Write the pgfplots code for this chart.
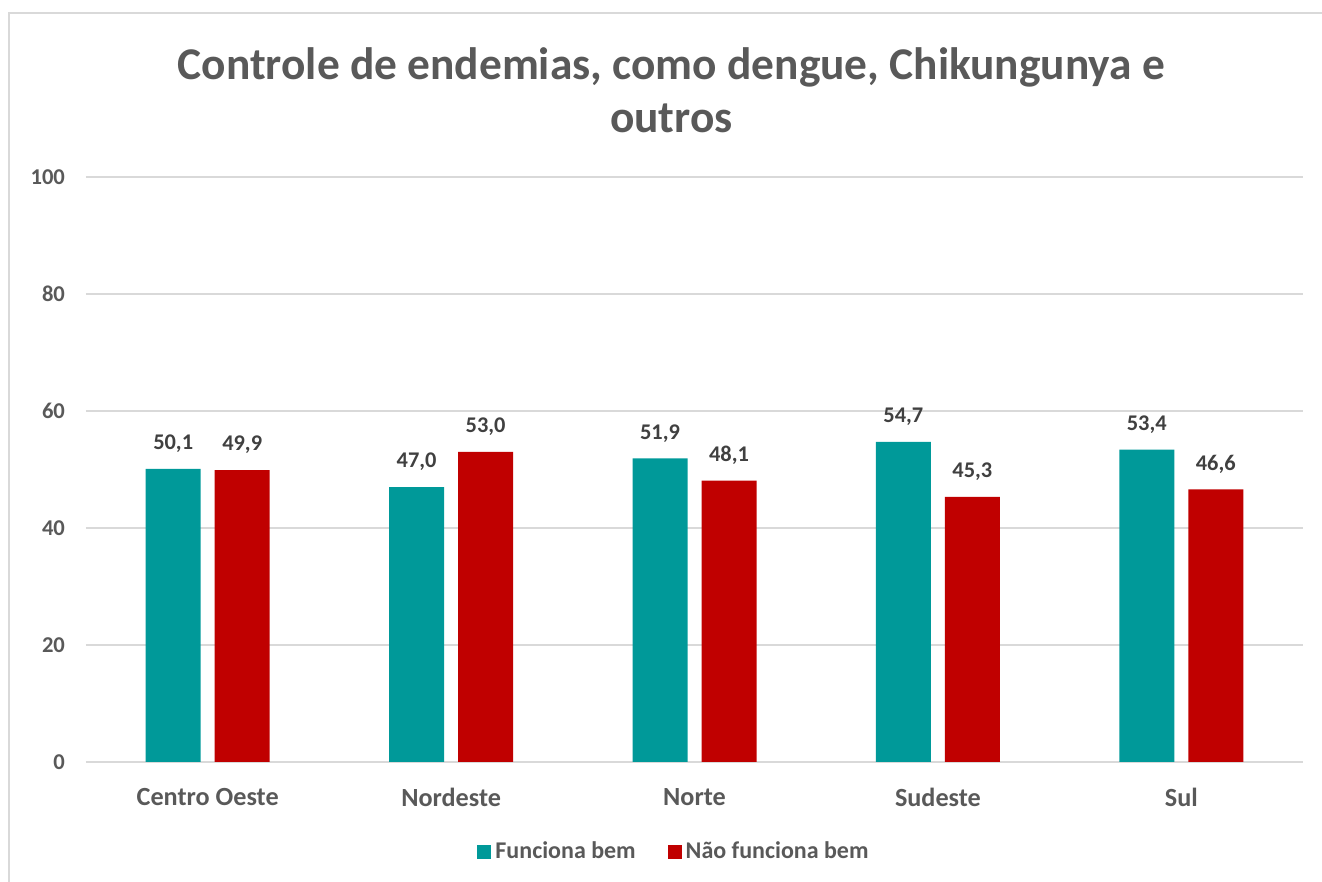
\documentclass[border=0pt]{standalone}
\usepackage{pgfplots}
\pgfplotsset{compat=1.18}
\usepackage{fontspec}
\setmainfont{Carlito}
\definecolor{teal1}{HTML}{009999}
\definecolor{red1}{HTML}{C00000}
\definecolor{txt}{HTML}{595959}
\definecolor{lbl}{HTML}{404040}
\definecolor{grid1}{HTML}{D9D9D9}
\begin{document}
\begin{tikzpicture}
\useasboundingbox (-43pt,-60pt) rectangle (618pt,381pt);
\draw[grid1, line width=1pt] (-38.5pt,-60pt) -- (-38.5pt,374.5pt) -- (618pt,374.5pt);
\begin{axis}[
  at={(0,0)}, anchor=south west,
  scale only axis,
  width=608.5pt, height=292.5pt,
  xmin=-0.5, xmax=4.5, ymin=0, ymax=100,
  ytick={0,20,40,60,80,100},
  xtick={0,1,2,3,4},
  xticklabels={Centro Oeste,Nordeste,Norte,Sudeste,Sul},
  axis line style={draw=none},
  major tick length=0pt,
  ymajorgrids, grid style={grid1, line width=0.9pt},
  extra y ticks={0}, extra y tick style={grid style={grid1,line width=1.1pt}},
  extra y tick labels={},
  yticklabel style={font=\bfseries\fontsize{11.3}{13}\selectfont, text=txt, anchor=east, xshift=-7pt},
  xticklabel style={font=\bfseries\fontsize{13.1}{15}\selectfont, text=txt, anchor=center, yshift=-17.5pt},
  /pgf/number format/assume math mode=true,
  ybar, bar width=27.5pt,
  bar shift auto=false,
  nodes near coords,
  nodes near coords style={font=\bfseries\fontsize{11.2}{13}\selectfont, text=lbl, anchor=south, yshift=4.5pt,
    /pgf/number format/.cd, fixed, fixed zerofill, precision=1, use comma},
  legend style={at={(294.5pt,-45pt)}, anchor=center, draw=none, legend columns=2,
    font=\bfseries\fontsize{12}{14}\selectfont, text=txt,
    /tikz/every even column/.append style={column sep=14pt}},
  legend image code/.code={\fill[#1] (0pt,-3.5pt) rectangle (7pt,3.5pt);},
  clip=false,
]
\addplot[fill=teal1, draw=none, bar shift=-17.25pt] coordinates {(0,50.1) (1,47.0) (2,51.9) (3,54.7) (4,53.4)};
\addplot[fill=red1, draw=none, bar shift=17.25pt] coordinates {(0,49.9) (1,53.0) (2,48.1) (3,45.3) (4,46.6)};
\legend{Funciona bem, Não funciona bem}
\node[font=\bfseries\fontsize{22.7}{26.5}\selectfont, text=txt, align=center] at (rel axis cs:0.481,1.149) {Controle de endemias, como dengue, Chikungunya e\\outros};
\end{axis}
\end{tikzpicture}
\end{document}
